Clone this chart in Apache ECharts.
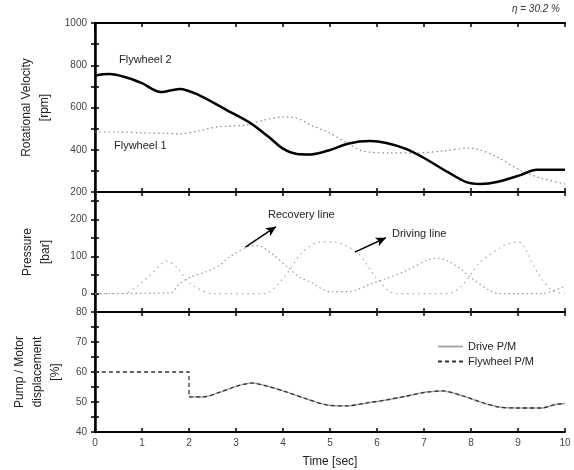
<!DOCTYPE html>
<html>
<head>
<meta charset="utf-8">
<script src="https://cdn.jsdelivr.net/npm/echarts@6/dist/echarts.min.js"></script>
<style>
  html, body { margin: 0; padding: 0; background: #fff; }
  #chart { width: 574px; height: 470px; }
</style>
</head>
<body>
<div id="chart"></div>
<script>
// top panel: rotational velocity [rpm]
const fw2Time = [0, 0.3, 0.7, 1.0, 1.4, 1.8, 2.2, 2.8, 3.3, 3.7, 4.0, 4.3, 4.6, 5.0, 5.4, 5.85, 6.2, 6.6, 7.0, 7.5, 7.9, 8.2, 8.55, 9.05, 9.4, 10];
const fw2Rpm = [752, 758, 740, 715, 673, 688, 660, 588, 527, 460, 405, 380, 378, 399, 430, 441, 432, 405, 361, 295, 247, 238, 247, 280, 305, 305];
const fw1Time = [0, 0.5, 1.0, 1.5, 1.8, 2.2, 2.6, 3.2, 3.6, 4.0, 4.25, 4.64, 5.0, 5.36, 5.7, 6.28, 6.85, 7.4, 7.98, 8.2, 8.55, 9.04, 9.5, 10];
const fw1Rpm = [484, 484, 480, 478, 475, 489, 508, 517, 541, 555, 552, 512, 479, 432, 394, 385, 385, 394, 408, 399, 366, 304, 265, 238];

// middle panel: pressure [bar]
const recTime = [0, 1.6, 1.8, 2.02, 2.34, 2.66, 2.83, 3.23, 3.45, 3.8, 4.1, 4.36, 4.6, 5.0, 5.4, 5.85, 6.2, 6.64, 7.06, 7.3, 7.51, 7.77, 8.02, 8.4, 8.6, 9.5, 10];
const recBar = [0, 2, 27, 44, 58, 77, 96, 126, 130, 104, 71, 44, 30, 5, 5, 25, 41, 63, 90, 96, 88, 68, 41, 8, 0, 0, 20];
const drvTime = [0, 0.6, 0.9, 1.15, 1.53, 1.75, 2.0, 2.5, 3.6, 4.0, 4.4, 4.8, 5.05, 5.57, 6.0, 6.4, 7.5, 7.8, 8.2, 8.7, 9.0, 9.4, 9.7, 10];
const drvBar = [0, 0, 20, 47, 88, 70, 30, 0, 0, 40, 110, 140, 140, 112, 40, 0, 0, 20, 85, 130, 140, 60, 10, 0];

// bottom panel: pump / motor displacement [%]
const pmTime = [0, 2, 2, 2.3, 2.66, 3.02, 3.34, 3.66, 4.08, 4.51, 4.94, 5.36, 5.79, 6.2, 6.64, 7.06, 7.4, 7.83, 8.26, 8.6, 9.0, 9.5, 9.8, 10];
const flyPm = [60, 60, 51.7, 51.7, 53.3, 55.3, 56.3, 55.3, 53.3, 51, 49, 48.7, 49.7, 50.7, 52, 53.3, 53.7, 52, 49.7, 48.3, 48, 48, 49.2, 49.5];
const drivePmStart = 2; // drive P/M follows from the step on

const timeTicks = ['0', '1', '2', '3', '4', '5', '6', '7', '8', '9', '10'];

const pairs = (xs, ys) => xs.map((x, i) => [x, ys[i]]);

const FONT = 'Liberation Sans, Arial, sans-serif';
const grids = [
  { left: 95, right: 9, top: 23, height: 169 },
  { left: 95, right: 9, top: 192, height: 120 },
  { left: 95, right: 9, top: 312, height: 120 },
];

const tickLabel = { color: '#444', fontSize: 10, fontFamily: FONT };

const xAxes = [];
const yAxes = [];
grids.forEach((g, i) => {
  const last = i === grids.length - 1;
  xAxes.push({
    type: 'value', gridIndex: i, min: 0, max: 10, interval: 1,
    axisLine: { show: true, onZero: false, lineStyle: { color: '#000', width: 2 } },
    axisTick: { show: true, inside: true, length: 4, lineStyle: { color: '#000', width: 1.5 } },
    axisLabel: last ? { ...tickLabel, margin: 6, formatter: (v) => timeTicks[v] } : { show: false },
    splitLine: { show: false },
    name: last ? 'Time [sec]' : '', nameLocation: 'middle', nameGap: 24,
    nameTextStyle: { fontSize: 12, color: '#222', fontFamily: FONT },
  });
  xAxes.push({
    type: 'value', gridIndex: i, min: 0, max: 10, interval: 1, position: 'top',
    axisLine: { show: true, onZero: false, lineStyle: { color: '#000', width: 2 } },
    axisTick: { show: true, inside: true, length: 4, lineStyle: { color: '#000', width: 1.5 } },
    axisLabel: { show: false }, splitLine: { show: false },
  });
});

const yDefs = [
  { min: 200, max: 1000, interval: 100, every: 200, hide: [], gap: 40, name: 'Rotational Velocity\n[rpm]' },
  { min: -50, max: 275, interval: 50, every: 100, hide: [-50, 275], gap: 40, name: 'Pressure\n[bar]' },
  { min: 40, max: 80, interval: 5, every: 10, hide: [], gap: 30, name: 'Pump / Motor\ndisplacement\n[%]' },
];
yDefs.forEach((d, i) => {
  yAxes.push({
    type: 'value', gridIndex: i, min: d.min, max: d.max, interval: d.interval,
    axisLine: { show: true, lineStyle: { color: '#000', width: 2.5 } },
    axisTick: { show: true, inside: true, length: 4, lineStyle: { color: '#000', width: 1.5 } },
    axisLabel: {
      ...tickLabel, margin: 8,
      formatter: (v) => (v % d.every === 0 && !d.hide.includes(v) ? String(v) : ''),
    },
    splitLine: { show: false },
    name: d.name, nameLocation: 'middle', nameRotate: 90, nameGap: d.gap,
    nameTextStyle: { fontSize: 12, color: '#222', fontFamily: FONT, lineHeight: 18, align: 'center' },
  });
  yAxes.push({
    type: 'value', gridIndex: i, min: d.min, max: d.max, interval: d.interval, position: 'right',
    axisLine: { show: true, lineStyle: { color: '#000', width: 1.5 } },
    axisTick: { show: true, inside: true, length: 4, lineStyle: { color: '#000', width: 1.5 } },
    axisLabel: { show: false }, splitLine: { show: false },
  });
});

const arrowLine = (from, to) => ({
  silent: true, symbol: ['none', 'arrow'], symbolSize: [7, 10],
  label: { show: false },
  lineStyle: { color: '#000', width: 1.5, type: 'solid' },
  data: [[{ coord: from }, { coord: to }]],
});

const dotted = [1.5, 3];

const series = [
  {
    name: 'Flywheel 1', type: 'line', xAxisIndex: 0, yAxisIndex: 0, smooth: 0.3, symbol: 'none',
    lineStyle: { color: '#888', width: 1.2, type: dotted }, data: pairs(fw1Time, fw1Rpm),
  },
  {
    name: 'Flywheel 2', type: 'line', xAxisIndex: 0, yAxisIndex: 0, smooth: 0.3, symbol: 'none',
    lineStyle: { color: '#000', width: 2.5 }, data: pairs(fw2Time, fw2Rpm),
  },
  {
    name: 'Recovery line', type: 'line', xAxisIndex: 2, yAxisIndex: 2, smooth: 0.3, symbol: 'none',
    lineStyle: { color: '#999', width: 1.2, type: dotted }, data: pairs(recTime, recBar),
    markLine: arrowLine([3.2, 126], [3.85, 181]),
  },
  {
    name: 'Driving line', type: 'line', xAxisIndex: 2, yAxisIndex: 2, smooth: 0.3, symbol: 'none',
    lineStyle: { color: '#aaa', width: 1.2, type: [1.5, 4] }, data: pairs(drvTime, drvBar),
    markLine: arrowLine([5.53, 112], [6.19, 151]),
  },
  {
    name: 'Drive P/M', type: 'line', xAxisIndex: 4, yAxisIndex: 4, smooth: 0.3, symbol: 'none',
    itemStyle: { color: '#aaa' },
    lineStyle: { color: '#aaa', width: 1.5 },
    data: pairs(pmTime, flyPm).filter((p, i) => p[0] >= drivePmStart && i > 1),
  },
  {
    name: 'Flywheel P/M', type: 'line', xAxisIndex: 4, yAxisIndex: 4, smooth: 0.3, symbol: 'none',
    itemStyle: { color: '#333' },
    lineStyle: { color: '#333', width: 1.3, type: [4, 3] }, data: pairs(pmTime, flyPm),
  },
];

const note = (text, left, top) => ({
  type: 'text', left, top,
  style: { text, fill: '#222', font: '11px ' + FONT },
});

const chart = echarts.init(document.getElementById('chart'), null, { renderer: 'canvas' });
chart.setOption({
  backgroundColor: '#fff',
  animation: false,
  grid: grids.map((g) => ({ ...g, show: false, outerBoundsMode: 'none', containLabel: false })),
  xAxis: xAxes,
  yAxis: yAxes,
  legend: {
    data: ['Drive P/M', 'Flywheel P/M'],
    orient: 'vertical', left: 432, top: 336, itemGap: 4,
    itemWidth: 25, itemHeight: 8,
    itemStyle: { opacity: 0 },
    textStyle: { fontSize: 11, color: '#222', fontFamily: FONT },
  },
  graphic: [
    note('Flywheel 2', 119, 54),
    note('Flywheel 1', 114, 140),
    note('Recovery line', 268, 209),
    note('Driving line', 392, 228),
    {
      type: 'text', right: 14, top: 4,
      style: { text: 'η = 30.2 %', fill: '#333', font: 'italic 10px ' + FONT },
    },
  ],
  series,
});
</script>
</body>
</html>
